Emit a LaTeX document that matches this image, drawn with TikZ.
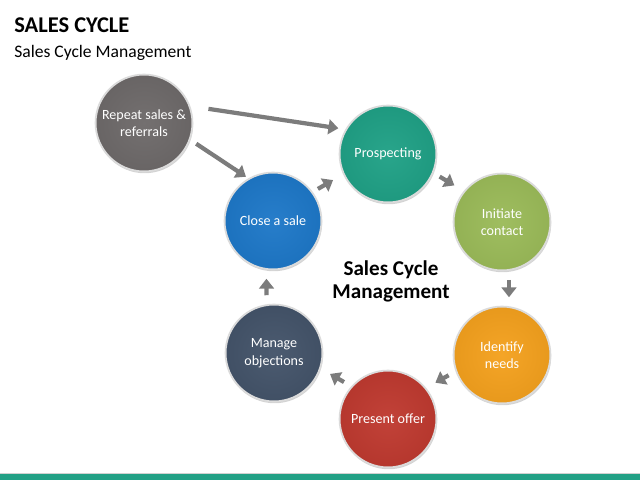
\documentclass[tikz,border=0pt]{standalone}
\usepackage{fontspec}
\setmainfont{Carlito}
\usetikzlibrary{arrows.meta, shadows}

\definecolor{repgray}{HTML}{6E6A6A}
\definecolor{prosteal}{HTML}{20A186}
\definecolor{initgreen}{HTML}{9BBB59}
\definecolor{identorange}{HTML}{F4A11E}
\definecolor{offerred}{HTML}{BF3A30}
\definecolor{manageslate}{HTML}{44546A}
\definecolor{closeblue}{HTML}{1E78C8}
\definecolor{arrowgray}{HTML}{7C7C7C}
\definecolor{barteal}{HTML}{22A085}

\tikzset{
  stage/.style={circle, minimum size=2.42cm, inner sep=0pt, align=center,
    text=white, font=\fontsize{10}{12.5}\selectfont,
    draw=white!86!black, line width=1.3pt,
    inner color=#1!96!white, outer color=#1!95!black,
    drop shadow={shadow xshift=0.5pt, shadow yshift=-1.3pt, opacity=0.35}},
  flow/.style={draw=arrowgray, line width=3pt,
    -{Triangle[length=7pt, width=10.5pt]}},
  hop/.style={flow, shorten <=6pt, shorten >=6pt,
    transform canvas={shift={#1}}}
}

\begin{document}
\begin{tikzpicture}[x=0.025cm, y=-0.025cm]
                \useasboundingbox (0,0) rectangle (640,480);
                \fill[barteal] (0,474) rectangle (640,480);
                \draw[white!82!black, line width=0.5pt] (0,473.5) -- (640,473.5);
                \node[anchor=base west, inner sep=0pt, font=\bfseries\fontsize{16}{19}\selectfont] (title) at (14,32) {SALES CYCLE};
                \node[anchor=base west, inner sep=0pt, font=\fontsize{12.5}{15}\selectfont] (subtitle) at (14,57) {Sales Cycle Management};
                \node[stage=repgray] (rep) at (144,123) {Repeat sales \&\\referrals};
                \node[stage=prosteal] (prosp) at (388,154) {Prospecting};
                \node[stage=initgreen] (init) at (502,222) {Initiate\\contact};
                \node[stage=identorange] (ident) at (502,355) {Identify\\needs};
                \node[stage=offerred] (offer) at (388,419) {Present offer};
                \node[stage=manageslate] (manage) at (274,353) {Manage\\objections};
                \node[stage=closeblue] (close) at (273,221) {Close a sale};
                \node[align=center, font=\bfseries\fontsize{15}{16.5}\selectfont] (hub) at (391,281) {Sales Cycle\\Management};
                \draw[flow, shorten <=13pt, shorten >=5pt] (rep.20) -- (prosp.150);
                \draw[flow, shorten <=5pt, shorten >=2pt] (rep.-20) -- (close.120);
                \draw[hop={(-5,-3)}] (close) -- (prosp);
                \draw[hop={(2,-7)}] (prosp) -- (init);
                \draw[hop={(7,0)}] (init) -- (ident);
                \draw[hop={(-3,-8)}] (ident) -- (offer);
                \draw[hop={(6,-8)}] (offer) -- (manage);
                \draw[hop={(-7,0)}] (manage) -- (close);
            \end{tikzpicture}
\end{document}
